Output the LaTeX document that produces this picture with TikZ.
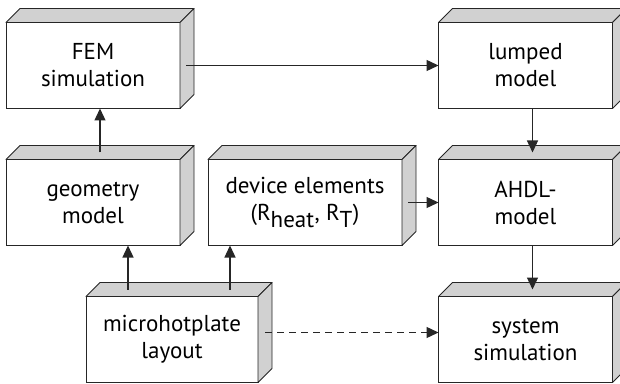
\documentclass[tikz,border=0pt]{standalone}
\usepackage{fontspec}
\setmainfont{PT Sans}
\usetikzlibrary{arrows.meta,positioning,calc}

\tikzset{
	block/.style={draw=black!85, line width=0.9pt, fill=white, outer sep=0pt,
		minimum width=174pt, minimum height=86pt, align=center,
		font=\fontsize{23}{27}\selectfont},
	face/.style={draw=black!85, line width=0.9pt, fill=black!18, line join=round},
	link/.style={draw=black!85, line width=1.3pt, -{Triangle[length=12pt,width=11pt]}}
}

\begin{document}
\begin{tikzpicture}[x=1pt,y=1pt]
		\useasboundingbox (0,0) rectangle (620,383);
		%\draw (0,0) grid (620,383);
		\node[block] (fem) at (93,317.5) {FEM\\simulation};
		\node[block] (lump) at (525.5,317.5) {lumped\\model};
		\node[block] (geo) at (93,180.5) {geometry\\model};
		\node[block, minimum width=194pt] (dev) at (305,180.5) {device elements\\(R$_{\textrm{heat}}$, R$_{\textrm{T}}$)};
		\node[block] (ahdl) at (525.5,180.5) {AHDL-\\model};
		\node[block, minimum width=172pt] (mhp) at (172,43.5) {microhotplate\\layout};
		\node[block] (sys) at (525.5,43.5) {system\\simulation};
		% top and side faces
		\foreach \n in {fem,lump,geo,dev,ahdl,mhp,sys} {
			\filldraw[face] (\n.north west) -- ++(14,14) -- ($(\n.north east)+(14,14)$) -- (\n.north east) -- cycle;
			\filldraw[face] (\n.north east) -- ++(14,14) -- ($(\n.south east)+(14,14)$) -- (\n.south east) -- cycle;
		}
		% connectors
		\draw[link] (fem.east) ++(6,0) -- (lump.west);
		\draw[link] ($(lump.south)+(7,0)$) -- ($(ahdl.north)+(7,7)$);
		\draw[link] ($(ahdl.south)+(7,0)$) -- ($(sys.north)+(7,7)$);
		\draw[link] ($(geo.north)+(7,7)$) -- ($(fem.south)+(7,0)$);
		\draw[link] ($(dev.east)+(6,0)$) -- (ahdl.west);
		\coordinate (mtop) at ($(mhp.north)+(0,7)$);
		\coordinate (gin) at ($(geo.south)+(35,0)$);
		\coordinate (din) at ($(dev.south west)+(22,0)$);
		\draw[link] (mtop -| gin) -- (gin);
		\draw[link] (mtop -| din) -- (din);
		\coordinate (mside) at ($(mhp.east)+(7,7)$);
		\draw[link, dash pattern=on 7pt off 5pt] (mside) -- (mside -| sys.west);
	\end{tikzpicture}
\end{document}
